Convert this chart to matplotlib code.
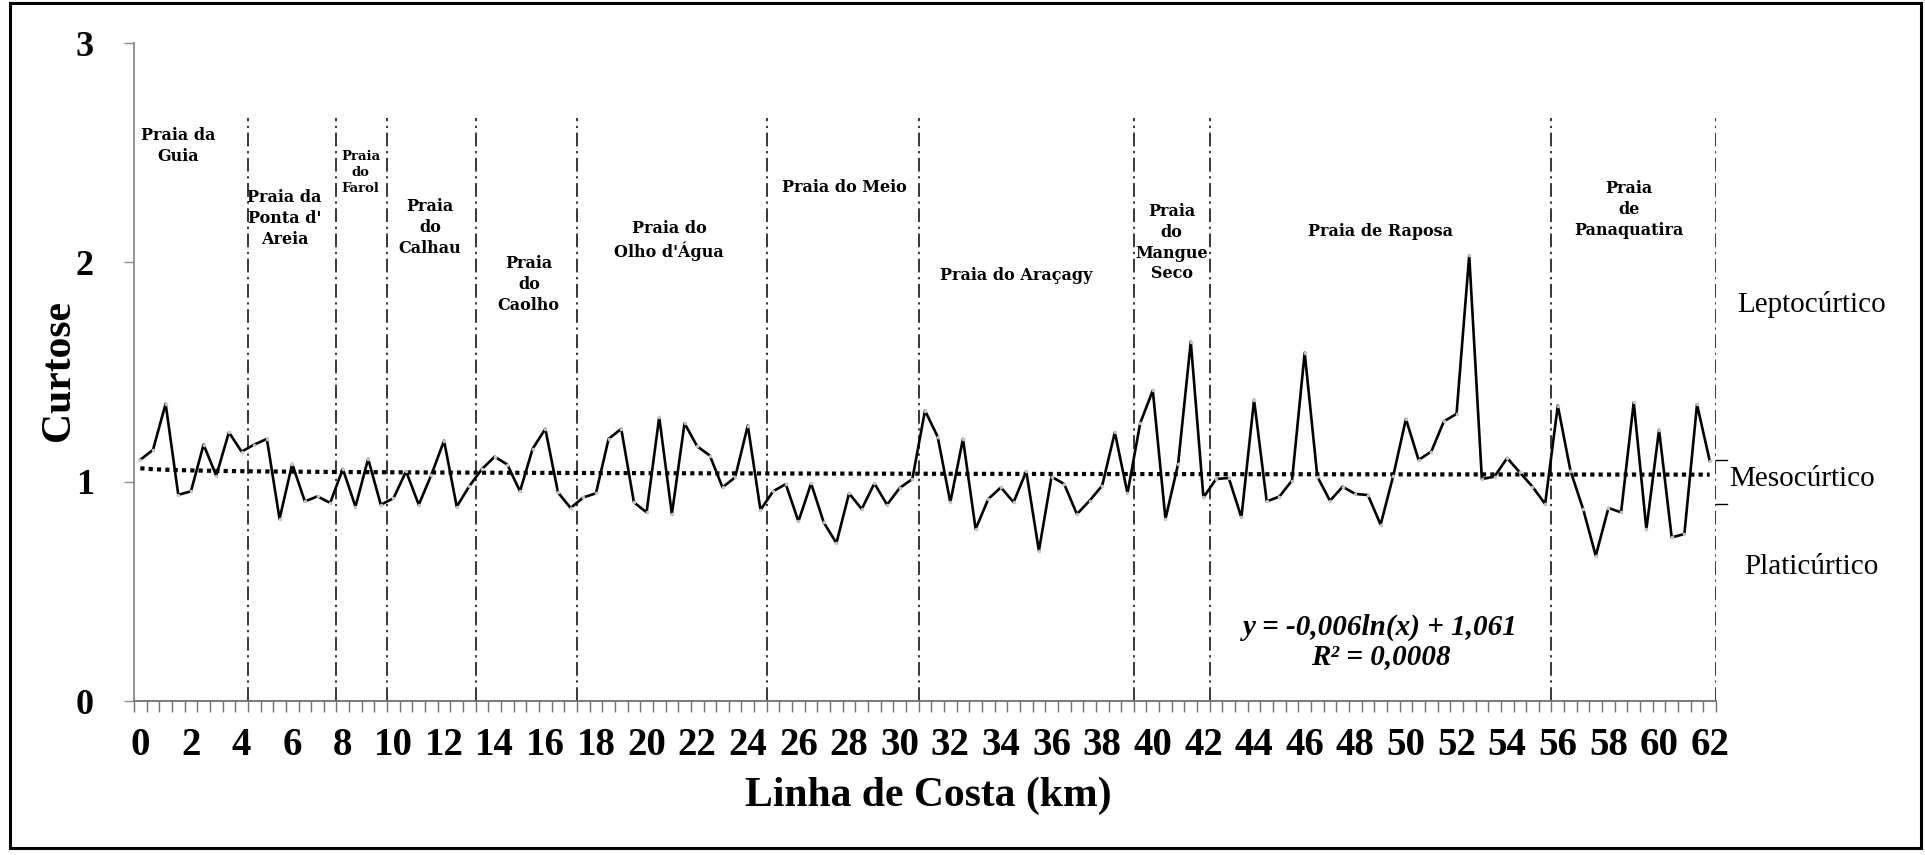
import matplotlib
matplotlib.use("Agg")
import matplotlib.pyplot as plt
from matplotlib.patches import Rectangle
import numpy as np

plt.rcParams['font.family'] = ['Liberation Serif', 'DejaVu Serif']

# curtose a cada 0,5 km (0 ... 62 km)
curtose = [1.100, 1.145, 1.355, 0.940, 0.956, 1.169, 1.027, 1.225, 1.137, 1.169,
           1.195, 0.830, 1.081, 0.910, 0.933, 0.903, 1.058, 0.886, 1.104, 0.895,
           0.924, 1.047, 0.895, 1.032, 1.187, 0.886, 0.980, 1.058, 1.114, 1.078,
           0.956, 1.150, 1.241, 0.951, 0.880, 0.928, 0.947, 1.195, 1.241, 0.906,
           0.860, 1.294, 0.852, 1.266, 1.161, 1.119, 0.974, 1.020, 1.256, 0.871,
           0.956, 0.989, 0.819, 0.992, 0.814, 0.720, 0.947, 0.875, 0.992, 0.895,
           0.971, 1.012, 1.324, 1.205, 0.906, 1.195, 0.784, 0.921, 0.974, 0.906,
           1.047, 0.685, 1.023, 0.989, 0.852, 0.913, 0.982, 1.225, 0.947, 1.266,
           1.416, 0.830, 1.081, 1.638, 0.928, 1.012, 1.017, 0.837, 1.373, 0.910,
           0.932, 1.005, 1.588, 1.023, 0.913, 0.977, 0.944, 0.939, 0.804, 1.027,
           1.286, 1.099, 1.137, 1.275, 1.309, 2.032, 1.012, 1.023, 1.108, 1.042,
           0.977, 0.898, 1.347, 1.050, 0.875, 0.662, 0.880, 0.860, 1.362, 0.784,
           1.236, 0.746, 0.761, 1.352, 1.096]
km = np.arange(len(curtose)) * 0.5

# limites entre praias (km)
limites = [4.25, 7.75, 9.75, 13.25, 17.25, 24.75, 30.75, 39.25, 42.25, 55.75, 62.25]

praias = ["Praia da\nGuia", "Praia da\nPonta d'\nAreia", "Praia\ndo\nFarol",
          "Praia\ndo\nCalhau", "Praia\ndo\nCaolho", "Praia do\nOlho d'Água",
          "Praia do Meio", "Praia do Araçagy", "Praia\ndo\nMangue\nSeco",
          "Praia de Raposa", "Praia\nde\nPanaquatira"]
pos_praias = [(1.5, 2.53), (5.7, 2.20), (8.7, 2.41), (11.45, 2.16), (15.35, 1.90),
              (20.9, 2.10), (27.8, 2.34), (34.6, 1.94), (40.75, 2.09),
              (49.0, 2.14), (58.8, 2.24)]

# linha de tendencia do excel
a_log = -0.006
b_log = 1.061
trend = a_log * np.log(np.arange(1, len(curtose) + 1)) + b_log

fig = plt.figure(figsize=(19.25, 8.55), dpi=100)
ax = fig.add_axes([134/1925, 154/855, 1582/1925, 658/855])

ax.plot(km, curtose, color='black', lw=1.9, zorder=3)
ax.plot(km, curtose, 'o', ms=2.6, color='#c4c4c4', mec='none', zorder=4)
ax.plot(km, trend, color='black', lw=3, ls=(0, (1, 1)), zorder=2)

ax.vlines(limites, 0, 2.66, colors='black', lw=1.1,
          linestyles=[(0, (9, 3, 1.5, 3))], zorder=1)

for nome, (px, py) in zip(praias, pos_praias):
    fs = 9.5 if 'Farol' in nome else 11.5
    ax.text(px, py, nome, ha='center', va='center', fontsize=fs,
            family='DejaVu Serif', fontweight='bold', linespacing=1.3)

ax.text(49.0, 0.27, "y = -0,006ln(x) + 1,061\nR² = 0,0008", ha='center', va='center',
        fontsize=21, fontweight='bold', fontstyle='italic', linespacing=1.1)

# marcas da faixa mesocurtica
ax.plot([62.25, 62.7], [1.1, 1.1], color='black', lw=1, clip_on=False)
ax.plot([62.25, 62.7], [0.9, 0.9], color='black', lw=1, clip_on=False)

ax.set_xlim(-0.25, 62.25)
ax.set_ylim(0, 3)
ax.spines['top'].set_visible(False)
ax.spines['right'].set_visible(False)
ax.spines['left'].set_color('#8c8c8c')
ax.spines['bottom'].set_color('#707070')
ax.spines['left'].set_linewidth(1.3)
ax.spines['bottom'].set_linewidth(1.3)

ax.set_xticks(np.arange(0, 63, 2))
ax.set_xticklabels([str(v) for v in range(0, 63, 2)], fontsize=28, fontweight='bold')
ax.set_xticks(np.arange(-0.25, 62.3, 0.5), minor=True)
ax.tick_params(axis='x', which='major', length=0, pad=19)
ax.tick_params(axis='x', which='minor', length=8, width=1, color='#707070')
ax.set_yticks([0, 1, 2, 3])
ax.set_yticklabels(['0', '1', '2', '3'], fontsize=26, fontweight='bold')
ax.tick_params(axis='y', length=7, width=1, color='#8c8c8c', pad=22)

fig.text(59/1925, 0.567, 'Curtose', rotation=90, ha='center', va='center',
         fontsize=30, fontweight='bold')
fig.text(928/1925, 0.069, 'Linha de Costa (km)', ha='center', va='center',
         fontsize=30, fontweight='bold')

fig.text(0.941, 0.644, 'Leptocúrtico', ha='center', va='center', fontsize=21)
fig.text(0.936, 0.440, 'Mesocúrtico', ha='center', va='center', fontsize=21)
fig.text(0.941, 0.337, 'Platicúrtico', ha='center', va='center', fontsize=21)

fig.patches.append(Rectangle((0.005, 0.008), 0.993, 0.989, transform=fig.transFigure,
                             fill=False, lw=2.2, ec='black'))

fig.savefig('out.png', dpi=100)
